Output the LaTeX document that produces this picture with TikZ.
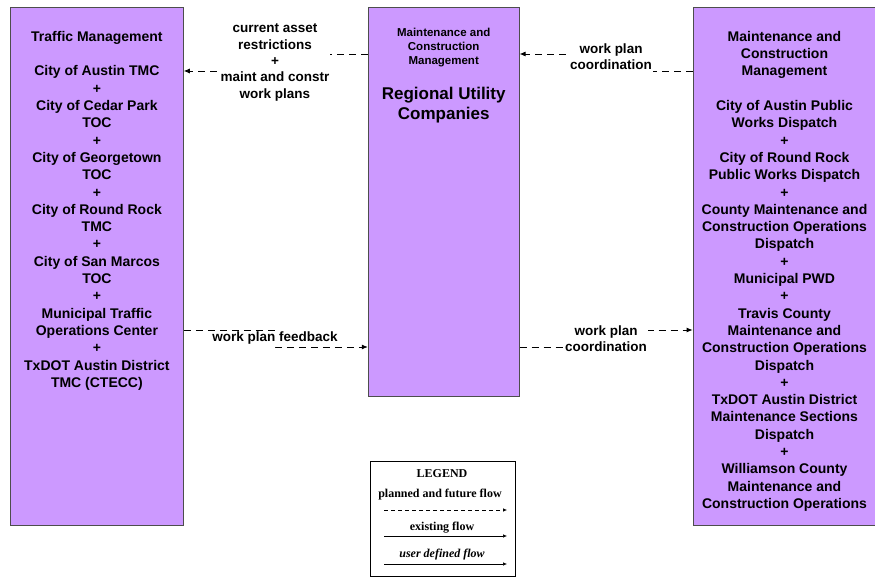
\documentclass[tikz,border=0pt]{standalone}
\usepackage{fontspec}
\newfontfamily\arialfont{Liberation Sans}
\newfontfamily\timesfont{Liberation Serif}
\usetikzlibrary{positioning,arrows.meta,backgrounds}
\definecolor{archfill}{HTML}{CC99FF}
\definecolor{archline}{HTML}{4D4D4D}

\begin{document}
\begin{tikzpicture}[
  x=1pt,y=1pt,
  box/.style={rectangle,draw=archline,line width=0.8pt,fill=archfill,inner sep=0pt},
  boxtxt/.style={align=center,inner sep=0pt,font=\arialfont\bfseries\fontsize{14}{17.3}\selectfont},
  lbl/.style={align=center,fill=white,inner xsep=1pt,inner ysep=1.5pt,
              font=\arialfont\bfseries\fontsize{13.5}{16.3}\selectfont},
  flow/.style={line width=0.8pt,dash pattern=on 7pt off 5pt,-{Latex[length=6pt,width=5pt]}},
  legbox/.style={rectangle,draw=black,line width=0.8pt,fill=white,inner sep=0pt,
                 minimum width=145pt,minimum height=114.5pt},
  legtxt/.style={inner sep=0pt,anchor=base,font=\timesfont\bfseries\fontsize{12}{14}\selectfont},
  legline/.style={line width=0.6pt,-{Latex[length=4pt,width=3.5pt]}},
]
\useasboundingbox (0,0) rectangle (875,-577);

\node[box,minimum width=173pt,minimum height=518pt,anchor=north west] (tm) at (10,-7) {};
\node[box,minimum width=151pt,minimum height=389pt,right=184pt of tm.north east,anchor=north west] (rut) {};
\node[box,minimum width=183pt,minimum height=518pt,right=173pt of rut.north east,anchor=north west] (rc) {};

\node[boxtxt,below=24pt of tm.north] (tmtxt)
   {Traffic Management\\[17.3pt]
    City of Austin TMC\\+\\City of Cedar Park\\TOC\\+\\City of Georgetown\\TOC\\+\\
    City of Round Rock\\TMC\\+\\City of San Marcos\\TOC\\+\\Municipal Traffic\\
    Operations Center\\+\\TxDOT Austin District\\TMC (CTECC)};
\node[boxtxt,font=\arialfont\bfseries\fontsize{11.5}{14}\selectfont,below=21pt of rut.north] (rutorg)
   {Maintenance and\\Construction\\Management};
\node[boxtxt,font=\arialfont\bfseries\fontsize{17}{19.5}\selectfont,below=20pt of rutorg] (rutname)
   {Regional Utility\\Companies};
\node[boxtxt,below=24pt of rc.north] (rctxt)
   {Maintenance and\\Construction\\Management\\[17.3pt]
    City of Austin Public\\Works Dispatch\\+\\City of Round Rock\\Public Works Dispatch\\+\\
    County Maintenance and\\Construction Operations\\Dispatch\\+\\Municipal PWD\\+\\
    Travis County\\Maintenance and\\Construction Operations\\Dispatch\\+\\
    TxDOT Austin District\\Maintenance Sections\\Dispatch\\+\\Williamson County\\
    Maintenance and\\Construction Operations};

\node[lbl] (restr) at (275,-62.5)
   {current asset\\restrictions\\+\\maint and constr\\work plans};
\node[lbl] (coordin) at (611,-57) {work plan\\coordination};
\node[lbl,inner ysep=1.5pt,inner xsep=0pt] (feedb) at (275,-338.5) {work plan feedback};
\node[lbl] (coordout) at (606,-339) {work plan\\coordination};

\begin{scope}[on background layer]
\draw[flow] ([yshift=-47pt]rut.north west) -| (restr.center) |- ([yshift=-64pt]tm.north east);
\draw[flow] ([yshift=-64pt]rc.north west) -| (coordin.center) |- ([yshift=-47pt]rut.north east);
\draw[flow] ([yshift=-323pt]tm.north east) -| (feedb.center) |- ([yshift=-340pt]rut.north west);
\draw[flow] ([yshift=-340pt]rut.north east) -| (coordout.center) |- ([yshift=-323pt]rc.north west);
\end{scope}

\node[legbox,anchor=north west] (leg) at (370,-461) {};
\node[legtxt] (legtitle) at (442,-477) {LEGEND};
\node[legtxt] (legplan) at (440,-497) {planned and future flow};
\node[legtxt] (legexist) at (442,-530) {existing flow};
\node[legtxt,font=\timesfont\bfseries\itshape\fontsize{12}{14}\selectfont] (leguser) at (442,-557) {user defined flow};
\coordinate (pa) at (384,-510);
\coordinate (pb) at (507,-510);
\coordinate (ea) at (384,-536);
\coordinate (eb) at (507,-536);
\coordinate (ua) at (384,-564);
\coordinate (ub) at (507,-564);
\draw[legline,dash pattern=on 4pt off 3pt] (pa) -- (pb);
\draw[legline] (ea) -- (eb);
\draw[legline] (ua) -- (ub);
\end{tikzpicture}
\end{document}
